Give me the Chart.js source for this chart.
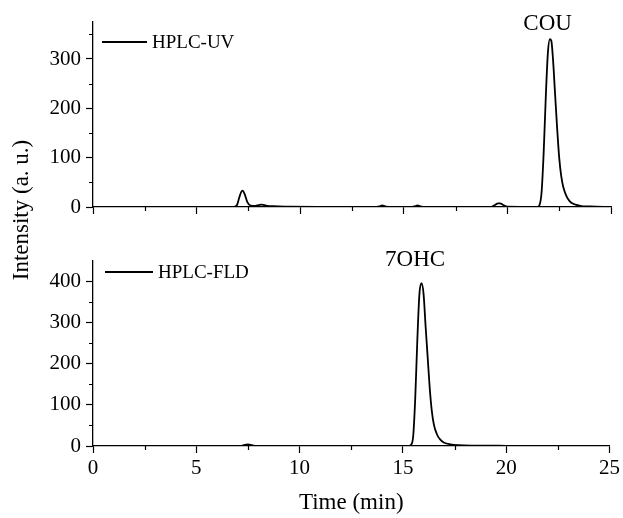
<!DOCTYPE html>
<html>
<head>
<meta charset="utf-8">
<script src="https://cdn.jsdelivr.net/npm/chart.js@4.4.0/dist/chart.umd.min.js"></script>
<style>
  html, body { margin: 0; padding: 0; background: #fff; }
  #wrap { position: relative; width: 623px; height: 518px; }
  canvas { position: absolute; left: 0; top: 0; }
</style>
</head>
<body>
<div id="wrap">
  <canvas id="uvChart" width="623" height="518"></canvas>
  <canvas id="fldChart" width="623" height="518"></canvas>
</div>
<script>
// HPLC-UV trace (top panel)
var uvTime = [0, 6.8, 6.95, 7.05, 7.15, 7.22, 7.32, 7.45, 7.6, 7.8, 8.0, 8.15, 8.35, 8.7, 9.5, 11, 13.7, 13.85, 13.95, 14.1, 14.3,
  15.4, 15.55, 15.65, 15.8, 16.0, 19.2, 19.4, 19.55, 19.65, 19.8, 20.0,
  21.45, 21.55, 21.65, 21.75, 21.85, 21.95, 22.05, 22.12, 22.2, 22.3, 22.4, 22.5, 22.6, 22.7, 22.85, 23.0, 23.2, 23.5, 24.0, 25];
var uvIntensity = [0, 0, 4, 18, 30, 33, 26, 10, 3, 2, 4, 5, 3, 1.5, 0.8, 0.3, 0, 1.5, 3, 1.5, 0,
  0, 1.5, 3, 1.5, 0, 0, 4, 7.5, 7.5, 4, 0.5,
  0, 4, 30, 110, 220, 310, 340, 337, 300, 230, 160, 100, 62, 40, 22, 12, 6, 2.5, 1, 0];

// HPLC-FLD trace (bottom panel)
var fldTime = [0, 7.15, 7.35, 7.5, 7.7, 7.9, 15.3, 15.4, 15.5, 15.6, 15.7, 15.8, 15.9, 16.0, 16.1, 16.2, 16.3, 16.4, 16.5,
  16.65, 16.8, 17.0, 17.3, 17.7, 18.5, 20, 25];
var fldIntensity = [0, 0, 3, 4, 2, 0, 0, 3, 25, 120, 260, 370, 396, 370, 290, 215, 140, 85, 52,
  28, 16, 8, 4, 2, 1, 0.5, 0];

var xMin = 0, xMax = 25, xStep = 5, xMinor = 2.5;
var uvMax = 375, fldMax = 450, yStep = 100, yMinor = 50;

var FONT = "'Liberation Serif', 'Times New Roman', serif";

function toPoints(xs, ys) {
  var pts = [];
  for (var i = 0; i < xs.length; i++) pts.push({x: xs[i], y: ys[i]});
  return pts;
}

// minor tick marks (shorter than the major ones)
var minorTicks = {
  id: 'minorTicks',
  afterDraw: function(chart) {
    var ctx = chart.ctx;
    var xs = chart.scales.x, ys = chart.scales.y;
    ctx.save();
    ctx.strokeStyle = '#000';
    ctx.lineWidth = 1.2;
    ctx.beginPath();
    for (var v = xMinor; v < xMax; v += xStep) {
      var px = Math.round(xs.getPixelForValue(v)) + 0.5;
      ctx.moveTo(px, xs.top);
      ctx.lineTo(px, xs.top + 4);
    }
    var top = ys.max;
    for (var w = yMinor; w < top; w += yStep) {
      var py = Math.round(ys.getPixelForValue(w)) + 0.5;
      ctx.moveTo(ys.right, py);
      ctx.lineTo(ys.right - 4, py);
    }
    ctx.stroke();
    ctx.restore();
  }
};

// legend line + text, and peak label
var extras = {
  id: 'extras',
  afterDraw: function(chart, args, opts) {
    var ctx = chart.ctx;
    var ds = chart.data.datasets[0];
    ctx.save();
    ctx.fillStyle = '#000';
    ctx.strokeStyle = ds.borderColor;
    ctx.lineWidth = 2;
    ctx.beginPath();
    ctx.moveTo(opts.legendX, opts.legendY);
    ctx.lineTo(opts.legendX + opts.legendLen, opts.legendY);
    ctx.stroke();
    ctx.font = '19px ' + FONT;
    ctx.textBaseline = 'middle';
    ctx.textAlign = 'left';
    ctx.fillText(ds.label, opts.legendX + opts.legendLen + 5, opts.legendY + 1);

    ctx.font = '23px ' + FONT;
    ctx.textAlign = 'center';
    ctx.fillText(opts.peak, chart.scales.x.getPixelForValue(opts.peakX), chart.scales.y.getPixelForValue(opts.peakY));

    if (opts.yTitle) {
      ctx.translate(22, 210);
      ctx.rotate(-Math.PI / 2);
      ctx.fillText(opts.yTitle, 0, 0);
    }
    ctx.restore();
  }
};

function makeChart(id, label, xs, ys, yMax, pad, xHeight, showXLabels, extraOpts) {
  return new Chart(document.getElementById(id), {
    type: 'line',
    data: {
      datasets: [{
        label: label,
        data: toPoints(xs, ys),
        borderColor: '#000',
        borderWidth: 1.8,
        pointRadius: 0,
        tension: 0.4,
        cubicInterpolationMode: 'monotone',
        fill: false
      }]
    },
    options: {
      responsive: false,
      animation: false,
      events: [],
      layout: { padding: pad },
      plugins: {
        legend: { display: false },
        tooltip: { enabled: false },
        extras: extraOpts
      },
      scales: {
        x: {
          type: 'linear',
          min: xMin, max: xMax,
          afterFit: function(s) { s.height = xHeight; },
          border: { display: true, color: '#000', width: 1.3 },
          grid: { drawOnChartArea: false, drawTicks: true, tickLength: 7, tickColor: '#000', tickWidth: 1.2 },
          ticks: {
            display: showXLabels,
            stepSize: xStep,
            includeBounds: false,
            color: '#000',
            padding: 3,
            maxRotation: 0,
            font: { family: FONT, size: 21 }
          },
          title: {
            display: showXLabels,
            text: 'Time (min)',
            color: '#000',
            padding: { top: 0, bottom: 1 },
            font: { family: FONT, size: 23 }
          }
        },
        y: {
          min: 0, max: yMax,
          afterFit: function(s) { s.width = 93; },
          border: { display: true, color: '#000', width: 1.3 },
          grid: { drawOnChartArea: false, drawTicks: true, tickLength: 7, tickColor: '#000', tickWidth: 1.2 },
          ticks: {
            stepSize: yStep,
            includeBounds: false,
            color: '#000',
            padding: 5,
            font: { family: FONT, size: 21 }
          }
        }
      }
    },
    plugins: [minorTicks, extras]
  });
}

makeChart('uvChart', 'HPLC-UV', uvTime, uvIntensity, uvMax,
  { left: 0, right: 12, top: 22, bottom: 301 }, 10, false,
  { legendX: 102, legendY: 42, legendLen: 45, peak: 'COU', peakX: 21.94, peakY: 371 });

makeChart('fldChart', 'HPLC-FLD', fldTime, fldIntensity, fldMax,
  { left: 0, right: 12, top: 261, bottom: 0 }, 72, true,
  { legendX: 105, legendY: 272, legendLen: 48, peak: '7OHC', peakX: 15.59, peakY: 453, yTitle: 'Intensity (a. u.)' });
</script>
</body>
</html>
